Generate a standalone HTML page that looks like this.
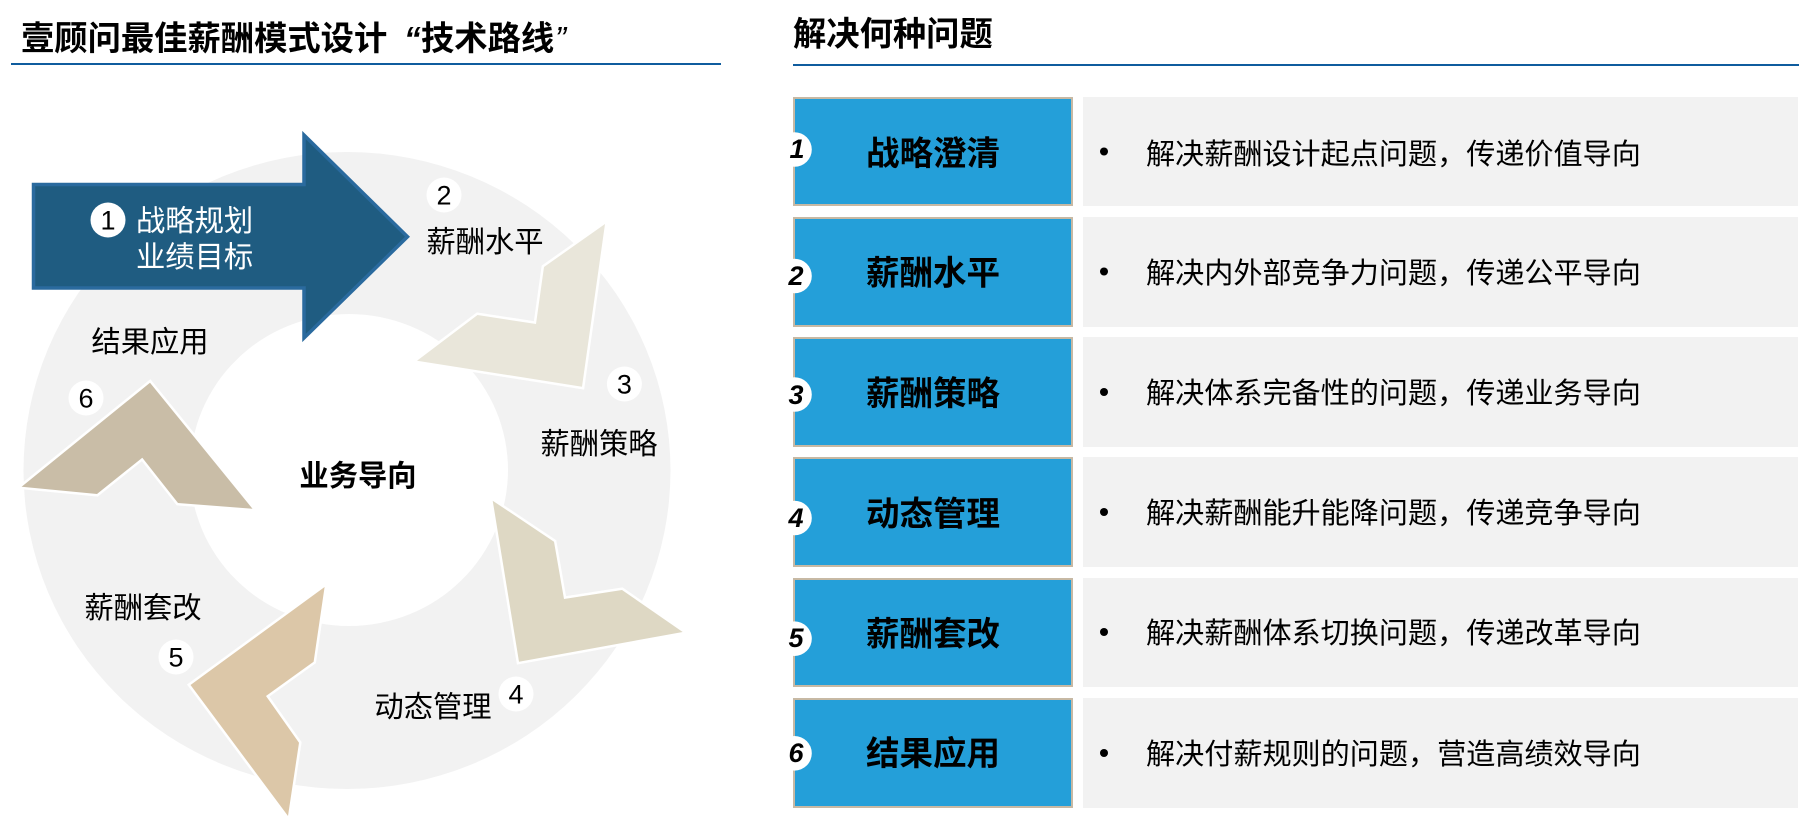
<!DOCTYPE html>
<html lang="zh">
<head>
<meta charset="utf-8">
<title>壹顾问最佳薪酬模式设计</title>
<style>
html,body{margin:0;padding:0;background:#fff;width:1799px;height:823px;overflow:hidden}
svg{display:block}
text{font-family:"Liberation Sans","Noto Sans CJK SC",sans-serif;fill:#000}
.h{font-size:33.3px;font-weight:700}
.r{font-size:29.3px}
.t{font-size:29.12px}
.c{text-anchor:middle}
.n{font-size:27px;font-family:"Liberation Sans",sans-serif;text-anchor:middle}
.i{font-size:27px;font-weight:700;font-style:italic;font-family:"Liberation Sans",sans-serif;text-anchor:middle}
.l{font-size:33.5px;font-weight:700;text-anchor:middle}
.v{stroke:#fff;stroke-width:5;paint-order:stroke;stroke-miterlimit:10}
</style>
</head>
<body>
<svg width="1799" height="823" viewBox="0 0 1799 823" xmlns="http://www.w3.org/2000/svg">
<rect width="1799" height="823" fill="#fff"/>

<!-- headers -->
<text class="h" x="21" y="50">壹顾问最佳薪酬模式设计</text>
<text class="h" x="404" y="50" style="font-style:italic">“</text>
<text class="h" x="421" y="50">技术路线</text>
<text class="h" x="555" y="50" style="font-style:italic;font-weight:400">”</text>
<rect x="11" y="63" width="710" height="2" fill="#0f5c9e"/>
<text class="h" x="793" y="45.5">解决何种问题</text>
<rect x="793" y="64" width="1006" height="2" fill="#0f5c9e"/>

<!-- ring -->
<ellipse cx="347" cy="470.5" rx="323.5" ry="318.5" fill="#f2f2f2"/>
<ellipse cx="349" cy="470" rx="159" ry="156" fill="#fff"/>

<!-- chevrons -->
<polygon class="v" points="605,224 544,267 536,324 477.5,315 417,360.7 582,386.7" fill="#e9e6da"/>
<polygon class="v" points="492.7,500.7 554,541.7 564,599 622,590 682.7,632 519,661.7" fill="#ded8c4"/>
<polygon class="v" points="324.6,587 313.6,661.7 266,696 299,742.7 288,816 190.5,685" fill="#dcc7a8"/>
<polygon class="v" points="150,382.7 252.5,508.7 178,503 142.3,457.7 97,494 21.6,486.7" fill="#c9bda7"/>

<!-- big arrow -->
<polygon points="33.5,184.5 304,184.5 304,135 407.5,236.7 304,338 304,288 33.5,288" fill="#1f5c81" stroke="#2a6a9e" stroke-width="3.5" stroke-miterlimit="10"/>

<!-- number circles -->
<g fill="#fff">
<ellipse cx="108" cy="220" rx="17.5" ry="17.5"/>
<ellipse cx="444" cy="195" rx="17.5" ry="17.5"/>
<ellipse cx="624.4" cy="384" rx="17.5" ry="17.5"/>
<ellipse cx="516" cy="694" rx="17.5" ry="17.5"/>
<ellipse cx="176" cy="657" rx="17.5" ry="17.5"/>
<ellipse cx="86" cy="398" rx="17.5" ry="17.5"/>
</g>
<text class="n" x="108" y="229.5">1</text>
<text class="n" x="444" y="204.5">2</text>
<text class="n" x="624.4" y="393.5">3</text>
<text class="n" x="516" y="703.5">4</text>
<text class="n" x="176" y="666.5">5</text>
<text class="n" x="86" y="407.5">6</text>

<!-- ring labels -->
<text class="r" x="136" y="231" style="fill:#fff">战略规划</text>
<text class="r" x="136" y="267" style="fill:#fff">业绩目标</text>
<text class="r c" x="485" y="252">薪酬水平</text>
<text class="r c" x="599" y="454">薪酬策略</text>
<text class="r c" x="433" y="717">动态管理</text>
<text class="r c" x="143" y="618">薪酬套改</text>
<text class="r c" x="150" y="352">结果应用</text>
<text class="r c" x="358" y="486" style="font-weight:700">业务导向</text>

<!-- rows -->
<g>
<rect x="794" y="98" width="278" height="107" fill="#249fd9" stroke="#c7b9a4" stroke-width="2"/>
<rect x="1083" y="97" width="715" height="109" fill="#f2f2f2"/>
<circle cx="794.5" cy="149.5" r="17.3" fill="#fff"/>
<text class="i" x="797" y="158">1</text>
<text class="l" x="933" y="165">战略澄清</text>
<circle cx="1104" cy="151.5" r="4" fill="#000"/>
<text class="t" x="1146" y="164">解决薪酬设计起点问题，传递价值导向</text>
</g>
<g>
<rect x="794" y="218" width="278" height="108" fill="#249fd9" stroke="#c7b9a4" stroke-width="2"/>
<rect x="1083" y="217" width="715" height="110" fill="#f2f2f2"/>
<circle cx="794.5" cy="276" r="17.3" fill="#fff"/>
<text class="i" x="796" y="285">2</text>
<text class="l" x="933" y="284.5">薪酬水平</text>
<circle cx="1104" cy="271.5" r="4" fill="#000"/>
<text class="t" x="1146" y="283">解决内外部竞争力问题，传递公平导向</text>
</g>
<g>
<rect x="794" y="338" width="278" height="108" fill="#249fd9" stroke="#c7b9a4" stroke-width="2"/>
<rect x="1083" y="337" width="715" height="110" fill="#f2f2f2"/>
<circle cx="794.5" cy="394.5" r="17.3" fill="#fff"/>
<text class="i" x="796" y="404">3</text>
<text class="l" x="933" y="405">薪酬策略</text>
<circle cx="1104" cy="392" r="4" fill="#000"/>
<text class="t" x="1146" y="403">解决体系完备性的问题，传递业务导向</text>
</g>
<g>
<rect x="794" y="458" width="278" height="108" fill="#249fd9" stroke="#c7b9a4" stroke-width="2"/>
<rect x="1083" y="457" width="715" height="110" fill="#f2f2f2"/>
<circle cx="794.5" cy="518" r="17.3" fill="#fff"/>
<text class="i" x="796" y="527">4</text>
<text class="l" x="933" y="525.5">动态管理</text>
<circle cx="1104" cy="512" r="4" fill="#000"/>
<text class="t" x="1146" y="523">解决薪酬能升能降问题，传递竞争导向</text>
</g>
<g>
<rect x="794" y="579" width="278" height="107" fill="#249fd9" stroke="#c7b9a4" stroke-width="2"/>
<rect x="1083" y="578" width="715" height="109" fill="#f2f2f2"/>
<circle cx="794.5" cy="638.7" r="17.3" fill="#fff"/>
<text class="i" x="796" y="647">5</text>
<text class="l" x="933" y="645.5">薪酬套改</text>
<circle cx="1104" cy="632" r="4" fill="#000"/>
<text class="t" x="1146" y="643">解决薪酬体系切换问题，传递改革导向</text>
</g>
<g>
<rect x="794" y="699" width="278" height="108" fill="#249fd9" stroke="#c7b9a4" stroke-width="2"/>
<rect x="1083" y="698" width="715" height="110" fill="#f2f2f2"/>
<circle cx="794.5" cy="753.3" r="17.3" fill="#fff"/>
<text class="i" x="796" y="762">6</text>
<text class="l" x="933" y="765">结果应用</text>
<circle cx="1104" cy="753" r="4" fill="#000"/>
<text class="t" x="1146" y="764">解决付薪规则的问题，营造高绩效导向</text>
</g>
</svg>
</body>
</html>
